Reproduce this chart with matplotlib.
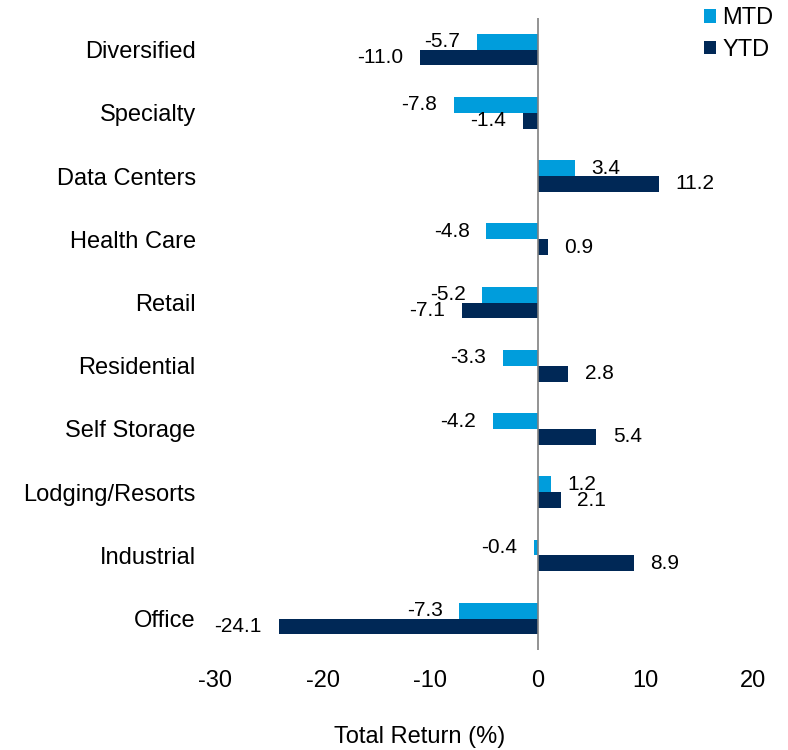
import matplotlib
matplotlib.use("Agg")
import matplotlib.pyplot as plt
import numpy as np

plt.rcParams["font.family"] = ["Liberation Sans", "DejaVu Sans"]

# Data
sectors = ["Diversified", "Specialty", "Data Centers", "Health Care", "Retail",
           "Residential", "Self Storage", "Lodging/Resorts", "Industrial", "Office"]
mtd = [-5.7, -7.8, 3.4, -4.8, -5.2, -3.3, -4.2, 1.2, -0.4, -7.3]
ytd = [-11.0, -1.4, 11.2, 0.9, -7.1, 2.8, 5.4, 2.1, 8.9, -24.1]
xticks = [-30, -20, -10, 0, 10, 20]

MTD_C = "#009ddc"
YTD_C = "#002856"

fig = plt.figure(figsize=(7.88, 7.5), dpi=100)
ax = fig.add_axes([0.273, 0.133, 0.683, 0.843])

y = np.arange(len(sectors))
h = 0.25
b1 = ax.barh(y - h / 2, mtd, height=h, color=MTD_C, label="MTD")
b2 = ax.barh(y + h / 2, ytd, height=h, color=YTD_C, label="YTD")

def label_bars(bars, vals):
    for bar, v in zip(bars, vals):
        cy = bar.get_y() + bar.get_height() / 2
        off = 12 if v >= 0 else -12
        ax.annotate(f"{v:.1f}", xy=(v, cy), xytext=(off, 0), textcoords="offset points",
                    ha="left" if v >= 0 else "right", va="center", fontsize=15)

label_bars(b1, mtd)
label_bars(b2, ytd)

ax.axvline(0, color="#808080", lw=1.2)
ax.set_xlim(-30, 20)
ax.set_ylim(len(sectors) - 0.5, -0.5)
ax.set_xticks(xticks)
ax.set_xticklabels([str(t) for t in xticks])
ax.set_yticks(y)
ax.set_yticklabels(sectors)
ax.tick_params(axis="both", length=0, labelsize=17)
ax.tick_params(axis="x", pad=14)
ax.tick_params(axis="y", pad=14)
for s in ax.spines.values():
    s.set_visible(False)

fig.text(420 / 788, 1 - 737 / 750, "Total Return (%)", ha="center", va="center", fontsize=17)

fig.legend(handles=[b1, b2], loc="upper left", bbox_to_anchor=(0.882, 1.003),
           frameon=False, fontsize=17, handlelength=0.5, handleheight=0.5,
           handletextpad=0.25, labelspacing=0.4, borderaxespad=0)

fig.savefig("out.png", dpi=100)
